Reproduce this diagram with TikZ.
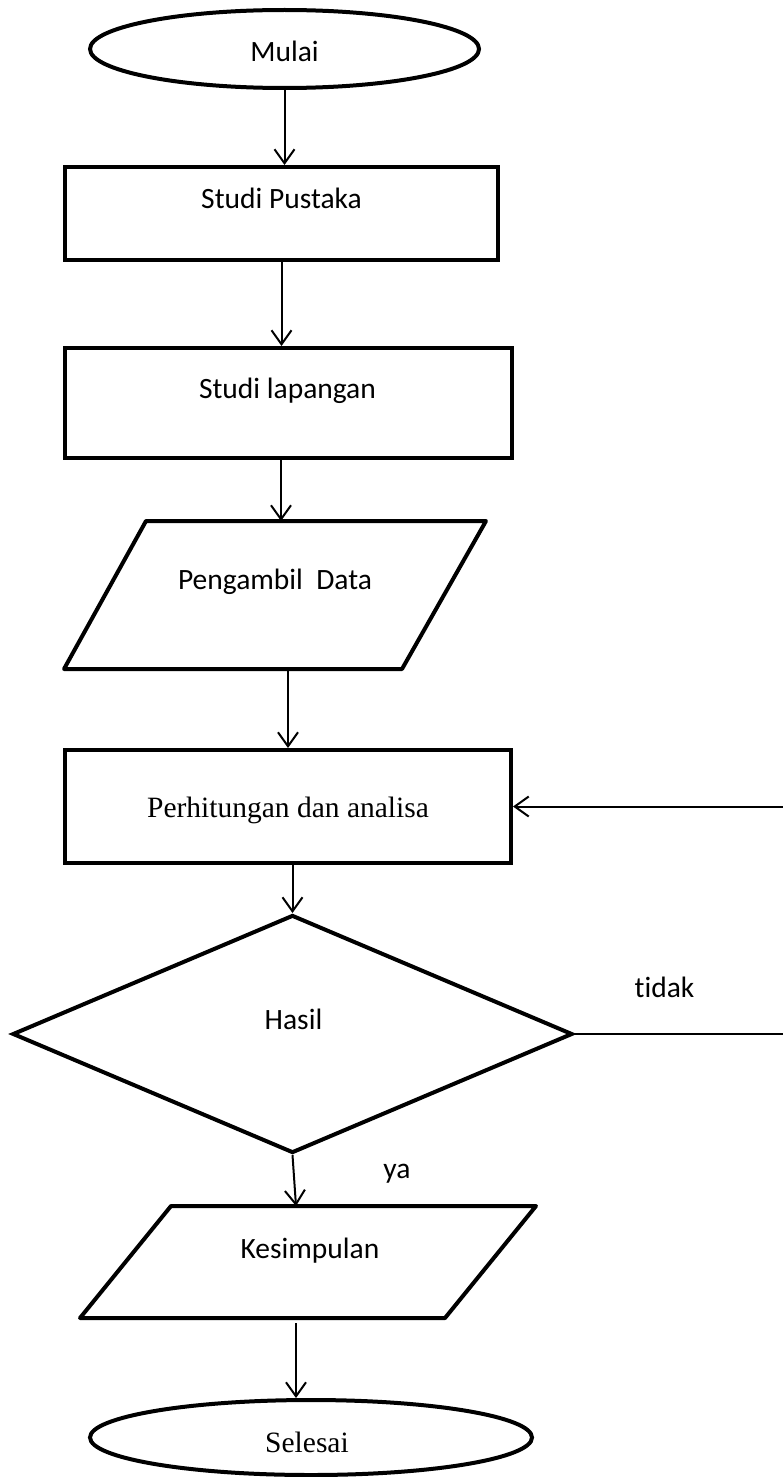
\documentclass[tikz,border=0pt]{standalone}
\usepackage{fontspec}
\setmainfont{Carlito}[Ligatures=NoCommon]
\newfontfamily\timesfont{Liberation Serif}
\usetikzlibrary{positioning, calc, arrows.meta, shapes.geometric}

\begin{document}
\begin{tikzpicture}[x=1pt, y=-1pt, >={Straight Barb[length=14pt, width=20pt]},
    font=\fontsize{29.5}{35}\selectfont,
    terminal/.style={ellipse, draw, line width=4pt, inner sep=0pt},
    box/.style={rectangle, draw, line width=4pt, inner sep=0pt},
    io/.style={rectangle, inner sep=0pt, outer sep=2pt},
    decision/.style={diamond, draw, line width=4pt, inner sep=0pt},
    txt/.style={anchor=base, inner sep=0pt},
    arr/.style={->, line width=2pt}]

    \useasboundingbox (0,0) rectangle (783,1477);

    % Shapes
    \node[terminal, minimum width=389, minimum height=78] (mulai) at (284.5,49) {};
    \node[box, minimum width=433, minimum height=93] (pustaka) at (281.5,213.5) {};
    \node[box, minimum width=447, minimum height=110] (lapangan) at (288.5,403) {};
    \node[io, minimum width=418, minimum height=144] (data) at (275,595) {};
    \node[box, minimum width=446, minimum height=113] (hitung) at (288,806.5) {};
    \node[decision, minimum width=560, minimum height=238] (hasil) at (292.5,1034) {};
    \node[io, minimum width=452, minimum height=108] (kesimpulan) at (308,1262) {};
    \node[terminal, minimum width=442, minimum height=75] (selesai) at (311,1437.5) {};

    % Parallelograms inside the io nodes
    \draw[line width=4pt, line join=round] ([xshift=82]data.north west) -- (data.north east)
        -- ([xshift=-84]data.south east) -- (data.south west) -- cycle;
    \draw[line width=4pt, line join=round] ([xshift=91]kesimpulan.north west) -- (kesimpulan.north east)
        -- ([xshift=-91]kesimpulan.south east) -- (kesimpulan.south west) -- cycle;

    % Texts
    \node[txt] (tMulai) at (284.5,62) {Mulai};
    \node[txt] (tPustaka) at (281.5,208) {Studi Pustaka};
    \node[txt] (tLapangan) at (287.5,398) {Studi lapangan};
    \node[txt] (tData) at (275,589) {Pengambil\ \ Data};
    \node[txt] (tHitung) at (288,817) {\timesfont Perhitungan dan analisa};
    \node[txt] (tHasil) at (293.5,1029) {Hasil};
    \node[txt] (tKesimpulan) at (310,1258) {Kesimpulan};
    \node[txt] (tSelesai) at (307,1452) {\timesfont Selesai};
    \node[txt] (tidak) at (664.5,997) {tidak};
    \node[txt] (ya) at (397,1178) {ya};

    % Arrows
    \draw[arr] (mulai.south) -- (mulai.south |- pustaka.north);
    \draw[arr] (pustaka.south) -- (pustaka.south |- lapangan.north);
    \draw[arr] ([xshift=-7.5]lapangan.south) -- ([xshift=-7.5]lapangan.south |- data.north);
    \draw[arr] (hitung.north |- data.south) -- (hitung.north);
    \draw[arr] (hasil.north |- hitung.south) -- (hasil.north);
    \draw[arr] (hasil.south) -- ([xshift=-12]kesimpulan.north);
    \draw[arr, shorten <=5pt] ([xshift=-12]kesimpulan.south) -- ([xshift=-12]kesimpulan.south |- selesai.north);

    % Loop back (tidak)
    \coordinate (tepi) at (791,0);
    \draw[arr] (hasil.east) -- (hasil.east -| tepi) -- (hitung.east -| tepi) -- (hitung.east);

\end{tikzpicture}
\end{document}
